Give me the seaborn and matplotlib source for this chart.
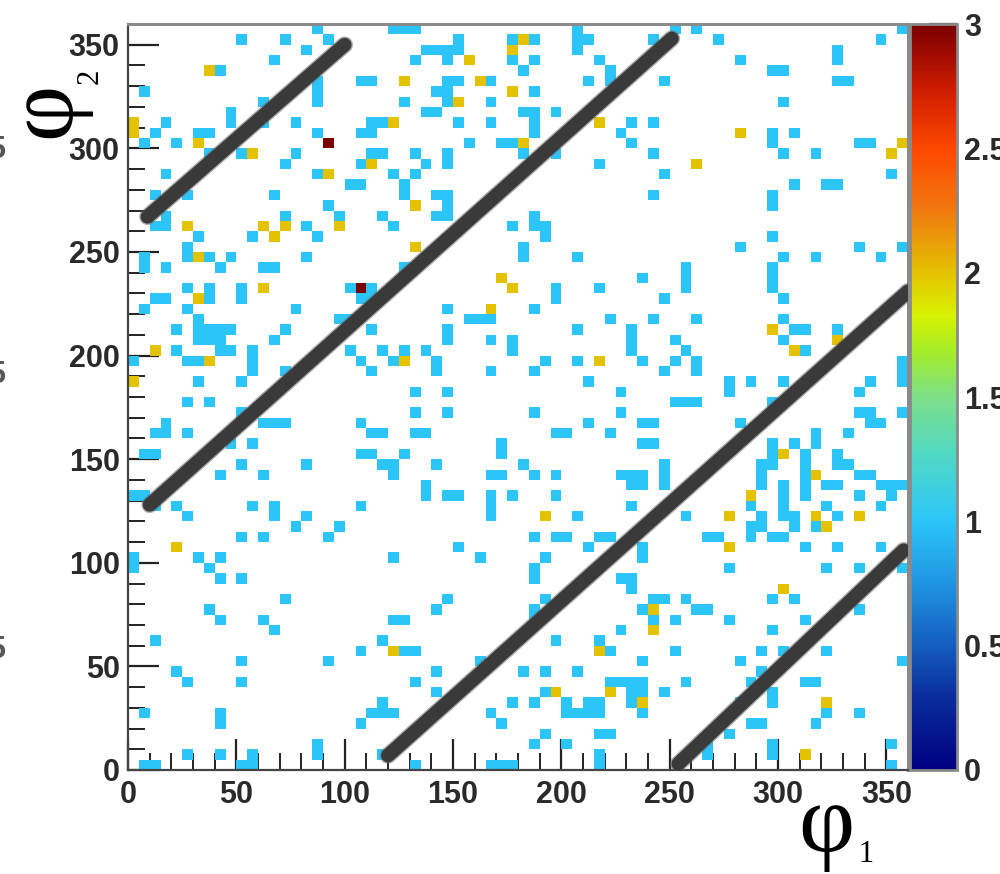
import numpy as np
import pandas as pd
import matplotlib
matplotlib.use("Agg")
import matplotlib.pyplot as plt
from matplotlib.colors import LinearSegmentedColormap
import seaborn as sns

# ---------------- data ----------------
BIN_DEG = 5.0          # 72 x 72 bins over 0..360
N_BINS = 72

# cells with count 1: {phi2 bin: [phi1 bins]}
count1_rows = {
    71: [17, 24, 25, 26, 41, 50, 52, 71],
    70: [10, 14, 18, 30, 35, 37, 41, 42, 48, 54, 69],
    69: [16, 27, 28, 29, 30, 41, 65],
    68: [13, 26, 29, 35, 37, 43, 56, 65],
    67: [8, 36, 44, 59, 60],
    66: [17, 21, 22, 29, 30, 33, 42, 44, 49, 65, 66],
    65: [1, 17, 28, 29, 37],
    64: [12, 17, 25, 29, 33, 60],
    63: [9, 27, 28, 36, 37, 39],
    62: [3, 9, 12, 15, 22, 23, 30, 33, 37, 46, 48],
    61: [2, 6, 7, 17, 21, 22, 37, 45, 59, 61],
    60: [1, 4, 31, 34, 35, 46, 59, 67, 68],
    59: [7, 10, 15, 22, 23, 26, 29, 36, 39, 48, 60, 63],
    58: [14, 21, 27, 29, 43],
    57: [3, 17, 24, 26, 49, 70],
    56: [20, 21, 25, 61, 64, 65],
    55: [2, 5, 13, 25, 28, 29, 48, 59],
    54: [18, 29, 59],
    53: [3, 14, 19, 23, 28, 29, 37],
    52: [2, 3, 16, 24, 35, 37, 38],
    51: [6, 11, 17, 38, 59],
    50: [5, 36, 56, 67, 71],
    49: [1, 5, 7, 9, 16, 36, 41, 60, 63, 69],
    48: [1, 3, 8, 12, 13, 25, 51, 59],
    47: [47, 51, 59],
    46: [5, 7, 10, 20, 22, 39, 43, 51, 59],
    45: [2, 3, 7, 10, 21, 22, 39, 49, 60],
    44: [1, 5, 15, 29, 37],
    43: [6, 19, 20, 31, 32, 33, 44, 48, 52, 60],
    42: [4, 6, 7, 8, 9, 14, 22, 29, 41, 46, 61, 62, 65],
    41: [6, 7, 8, 13, 29, 33, 35, 46, 50, 60],
    40: [4, 8, 9, 11, 20, 23, 25, 27, 35, 46, 51, 62],
    39: [0, 5, 6, 11, 21, 24, 28, 38, 41, 47, 50, 52, 71],
    38: [11, 14, 22, 28, 33, 37, 49, 52, 71],
    37: [6, 10, 42, 55, 57, 60, 68, 71],
    36: [26, 29, 45, 55, 67],
    35: [5, 7, 50, 51, 52, 59],
    34: [10, 26, 29, 37, 45, 67, 68, 71],
    33: [3, 12, 13, 14, 21, 42, 47, 48, 56, 68, 69],
    32: [2, 3, 5, 22, 23, 26, 27, 39, 40, 44, 63, 66],
    31: [9, 11, 34, 47, 48, 59, 61, 63],
    30: [1, 2, 21, 22, 25, 34, 59, 62, 65],
    29: [10, 16, 23, 24, 28, 36, 49, 58, 59, 62, 65, 66],
    28: [8, 12, 24, 33, 34, 37, 39, 45, 46, 47, 49, 58, 62, 67, 68],
    27: [27, 46, 47, 49, 58, 60, 62, 64, 65, 69, 70, 71],
    26: [0, 1, 27, 29, 30, 33, 35, 39, 60, 62, 67, 70],
    25: [2, 4, 11, 13, 21, 33, 46, 57, 60, 64, 69],
    24: [5, 13, 16, 33, 41, 51, 58, 60, 61, 65],
    23: [15, 19, 57, 58, 61, 63],
    22: [10, 12, 18, 37, 39, 40, 43, 44, 53, 54, 57, 59, 60],
    21: [30, 42, 47, 62, 65, 69],
    20: [0, 6, 8, 24, 32, 38, 47],
    19: [0, 7, 37, 55, 64, 67, 71],
    18: [8, 10, 37, 45, 46],
    17: [46],
    16: [14, 29, 38, 48, 49, 51, 59, 61],
    15: [7, 28, 37, 47, 52, 53, 67],
    14: [8, 12, 24, 25, 37, 48, 50, 55, 62],
    13: [13, 45, 59],
    12: [2, 23, 39, 43],
    11: [21, 25, 26, 44, 50, 58, 60, 64],
    10: [10, 18, 32, 47, 56, 71],
    9: [4, 28, 36, 38, 41, 58],
    8: [5, 10, 26, 44, 45, 46, 47, 51, 57, 62, 63],
    7: [28, 38, 46, 47, 49, 59],
    6: [23, 35, 37, 40, 42, 43, 46, 56, 59],
    5: [1, 8, 22, 23, 24, 33, 40, 41, 42, 43, 47, 64, 67],
    4: [8, 21, 34, 57, 58, 63],
    3: [38, 43, 44, 55],
    2: [17, 37, 40, 53, 59, 70],
    1: [5, 8, 11, 17, 23, 43, 53, 59],
    0: [1, 2, 10, 11, 26, 33, 34, 35, 43, 70],
}

# cells with count 2
count2_rows = {
    70: [36], 69: [35], 68: [31], 67: [7], 66: [25, 32], 65: [35], 64: [30],
    62: [0, 24, 43], 61: [0, 56], 60: [6, 36, 71], 59: [11, 70], 58: [22, 52],
    57: [18], 54: [26], 52: [5, 12, 14, 19], 51: [13], 50: [26], 49: [6],
    47: [34], 46: [12, 35], 45: [6], 44: [33], 42: [59], 41: [65],
    40: [2, 61], 39: [7, 25, 43], 37: [0], 30: [60], 28: [63], 26: [57],
    24: [38, 55, 63, 67], 23: [64], 21: [4, 55], 17: [60], 15: [48],
    13: [48], 11: [24, 43], 7: [39, 44], 6: [47, 64], 1: [62],
}

# cells with count 3
count3_rows = {60: [18], 46: [21]}

# grey diagonal bands (start / end points, degrees)
band_phi1_start = [9, 10, 120, 254]
band_phi2_start = [267, 128, 7, 3]
band_phi1_end = [100, 251, 360, 358]
band_phi2_end = [350, 353, 231, 106]

x_ticks = [0, 50, 100, 150, 200, 250, 300, 350]
y_ticks = [0, 50, 100, 150, 200, 250, 300, 350]
cbar_ticks = [0, 0.5, 1, 1.5, 2, 2.5, 3]
cbar_labels = ["0", "0.5", "1", "1.5", "2", "2.5", "3"]

# ---------------- build table ----------------
records = []
for cnt, rows in ((1, count1_rows), (2, count2_rows), (3, count3_rows)):
    for j, cols in rows.items():
        for i in cols:
            records.append(((i + 0.5) * BIN_DEG, (j + 0.5) * BIN_DEG, cnt))
df = pd.DataFrame(records, columns=["phi1", "phi2", "count"])

# ROOT-like palette
palette_colors = [
    (0.000, "#000080"),
    (0.100, "#0a2f9e"),
    (0.170, "#1560c0"),
    (0.250, "#1f95e2"),
    (0.333, "#2cc5fa"),
    (0.420, "#4fd8c6"),
    (0.500, "#7ddf88"),
    (0.560, "#a4ec2a"),
    (0.610, "#d8f200"),
    (0.667, "#e4c200"),
    (0.750, "#f07a10"),
    (0.833, "#ff4800"),
    (0.917, "#cc1a00"),
    (1.000, "#7a0000"),
]
cmap = LinearSegmentedColormap.from_list("rootpal", palette_colors)

# ---------------- figure ----------------
sns.set_theme(style="white")
plt.rcParams["font.family"] = ["Liberation Sans", "DejaVu Sans"]
SERIF = ["Liberation Serif", "DejaVu Serif"]

fig = plt.figure(figsize=(10, 8.74), dpi=100)
ax = fig.add_axes([0.128, 0.119, 0.780, 0.8535])
cax = fig.add_axes([0.910, 0.119, 0.047, 0.8535])

sns.histplot(
    data=df, x="phi1", y="phi2", weights="count",
    bins=N_BINS, binrange=((0, 360), (0, 360)),
    cmap=cmap, vmin=0, vmax=3,
    cbar=True, cbar_ax=cax, ax=ax,
)

for xs, ys, xe, ye in zip(band_phi1_start, band_phi2_start, band_phi1_end, band_phi2_end):
    sns.lineplot(x=[xs, xe], y=[ys, ye], ax=ax, color="#6a6a6a", lw=12.0,
                 solid_capstyle="round", estimator=None, sort=False, zorder=5, alpha=0.55)
    sns.lineplot(x=[xs, xe], y=[ys, ye], ax=ax, color="#3a3a3a", lw=10.0,
                 solid_capstyle="round", estimator=None, sort=False, zorder=6)

ax.set_xlim(0, 360)
ax.set_ylim(0, 360)
ax.set_xlabel("")
ax.set_ylabel("")
ax.set_xticks(x_ticks)
ax.set_yticks(y_ticks)
ax.set_xticks(np.arange(0, 361, 10), minor=True)
ax.set_yticks(np.arange(0, 361, 10), minor=True)
ax.set_xticklabels([str(t) for t in x_ticks])
ax.set_yticklabels([str(t) for t in y_ticks])
ax.tick_params(which="major", direction="in", length=22, width=1.6, color="#222222",
               top=False, right=False, bottom=True, left=True,
               labelsize=22, labelcolor="#2a2a2a")
ax.tick_params(axis="y", which="major", pad=6)
ax.tick_params(axis="x", which="major", pad=7)
ax.tick_params(which="minor", direction="in", length=12, width=1.4, color="#222222",
               top=False, right=False, bottom=True, left=True)
for lab in ax.get_xticklabels() + ax.get_yticklabels():
    lab.set_fontweight("bold")
for side in ("left", "bottom"):
    ax.spines[side].set_color("#444444")
    ax.spines[side].set_linewidth(1.6)
for side in ("top", "right"):
    ax.spines[side].set_color("#8a8a8a")
    ax.spines[side].set_linewidth(2.2)
ax.grid(False)

# colorbar
cax.set_yticks(cbar_ticks)
cax.set_yticklabels(cbar_labels)
cax.yaxis.set_ticks_position("right")
cax.tick_params(direction="in", length=20, width=1.6, color="#222222",
                labelsize=22, labelcolor="#2a2a2a", pad=5, right=True, left=False)
for lab in cax.get_yticklabels():
    lab.set_fontweight("bold")
cax.minorticks_off()
for sp in cax.spines.values():
    sp.set_color("#8a8a8a")
    sp.set_linewidth(2.0)
cax.set_ylim(0, 3)

# axis titles (ROOT style placement)
fig.text(0.826, 1 - 828 / 874, "φ", fontsize=70, family=SERIF,
         ha="center", va="center", color="black")
fig.text(0.866, 1 - 854 / 874, "1", fontsize=22, family=SERIF,
         ha="center", va="center", color="black")
fig.text(0.046, 1 - 110 / 874, "φ", fontsize=70, family=SERIF,
         rotation=90, ha="center", va="center", color="black")
fig.text(0.090, 1 - 76 / 874, "2", fontsize=22, family=SERIF,
         rotation=90, ha="center", va="center", color="black")

# clipped remnants of neighbouring labels at the left edge
for yy in (150, 375, 650):
    fig.text(0.005, 1 - yy / 874, "5", fontsize=22, fontweight="bold",
             ha="right", va="center", color="#555555")

fig.savefig("out.png", dpi=100)
